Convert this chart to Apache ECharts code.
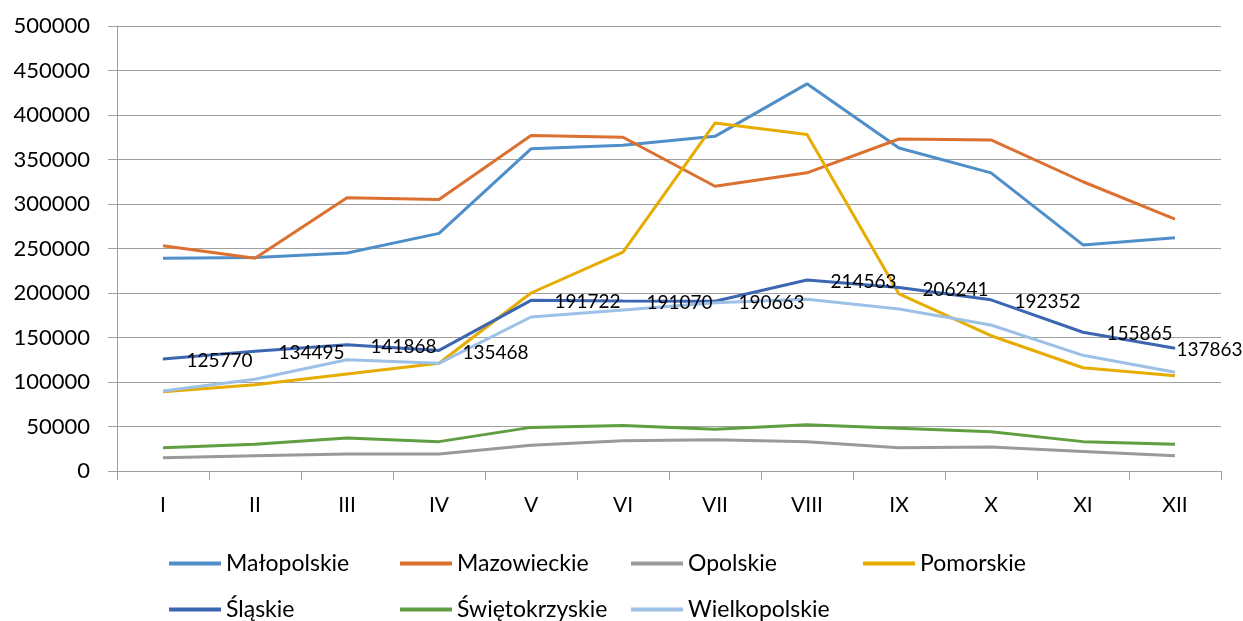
<!DOCTYPE html>
<html>
<head>
<meta charset="utf-8">
<script src="https://cdn.jsdelivr.net/npm/echarts@6/dist/echarts.min.js"></script>
<style>
  html, body { margin: 0; padding: 0; background: #fff; }
  #chart { width: 1243px; height: 621px; }
</style>
</head>
<body>
<div id="chart"></div>
<script>
const months = ['I', 'II', 'III', 'IV', 'V', 'VI', 'VII', 'VIII', 'IX', 'X', 'XI', 'XII']
const yTicks = [0, 50000, 100000, 150000, 200000, 250000, 300000, 350000, 400000, 450000, 500000]

const malopolskie = [239000, 240000, 245000, 267000, 362000, 366000, 376000, 435000, 363000, 335000, 254000, 262000]
const mazowieckie = [253000, 239000, 307000, 305000, 377000, 375000, 320000, 335000, 373000, 372000, 325000, 283000]
const opolskie = [15000, 17000, 19000, 19000, 29000, 34000, 35000, 33000, 26000, 27000, 22000, 17000]
const pomorskie = [89000, 97000, 109000, 121000, 200000, 246000, 391000, 378000, 199000, 152000, 116000, 107000]
const slaskie = [125770, 134495, 141868, 135468, 191722, 191070, 190663, 214563, 206241, 192352, 155865, 137863]
const swietokrzyskie = [26000, 30000, 37000, 33000, 49000, 51000, 47000, 52000, 48000, 44000, 33000, 30000]
const wielkopolskie = [90000, 103000, 125000, 121000, 173000, 181000, 189000, 193000, 182000, 164000, 130000, 111000]

const names = ['Małopolskie', 'Mazowieckie', 'Opolskie', 'Pomorskie', 'Śląskie', 'Świętokrzyskie', 'Wielkopolskie']
const colors = ['#4f8fc9', '#dc7030', '#9a9a9a', '#e6ac00', '#3d66b2', '#5f9e41', '#9dc0e6']
const values = [malopolskie, mazowieckie, opolskie, pomorskie, slaskie, swietokrzyskie, wielkopolskie]

const font = 'Lato, "Liberation Sans", sans-serif'

// etykiety tylko dla Śląskie
function slaskieData() {
  return slaskie.map((v, i) => {
    if (i === slaskie.length - 1) {
      return { value: v, label: { distance: 1 } }
    }
    return v
  })
}

const series = names.map((name, i) => {
  const s = {
    name: name,
    type: 'line',
    data: values[i],
    symbol: 'none',
    lineStyle: { color: colors[i], width: 3 },
    itemStyle: { color: colors[i] },
  }
  if (name === 'Śląskie') {
    s.data = slaskieData()
    s.symbol = 'circle'
    s.symbolSize = 1
    s.label = {
      show: true,
      position: 'right',
      distance: 23,
      offset: [0, 2],
      color: '#000',
      fontFamily: font,
      fontSize: 19,
    }
  }
  return s
})

// legenda w siatce 4 kolumn, jedna legenda na pozycję
const legendCols = [169, 400, 631, 863]
const legendRows = [552, 598]
const legends = names.map((name, i) => ({
  left: legendCols[i % 4],
  top: legendRows[Math.floor(i / 4)],
  padding: 0,
  itemWidth: 52,
  itemHeight: 4,
  icon: 'rect',
  data: [name],
  textStyle: {
    color: '#000',
    fontFamily: font,
    fontSize: 23,
  },
}))

const option = {
  animation: false,
  backgroundColor: '#fff',
  color: colors,
  grid: {
    left: 117,
    right: 22,
    top: 26,
    bottom: 150,
  },
  legend: legends,
  xAxis: {
    type: 'category',
    data: months,
    boundaryGap: true,
    axisLine: { show: true, lineStyle: { color: '#a0a0a0', width: 1 } },
    axisTick: { show: true, length: 9, lineStyle: { color: '#a0a0a0' } },
    axisLabel: {
      color: '#000',
      fontFamily: font,
      fontSize: 21,
      margin: 24,
    },
  },
  yAxis: {
    type: 'value',
    min: yTicks[0],
    max: yTicks[yTicks.length - 1],
    interval: 50000,
    axisLine: { show: true, lineStyle: { color: '#a0a0a0', width: 1 } },
    axisTick: { show: true, length: 9, lineStyle: { color: '#a0a0a0' } },
    splitLine: { show: true, lineStyle: { color: '#a0a0a0', width: 1 } },
    axisLabel: {
      color: '#000',
      fontFamily: font,
      fontSize: 22,
      margin: 27,
      formatter: (v) => String(v),
    },
  },
  series: series,
}

const myChart = echarts.init(document.getElementById('chart'))
myChart.setOption(option)
</script>
</body>
</html>
